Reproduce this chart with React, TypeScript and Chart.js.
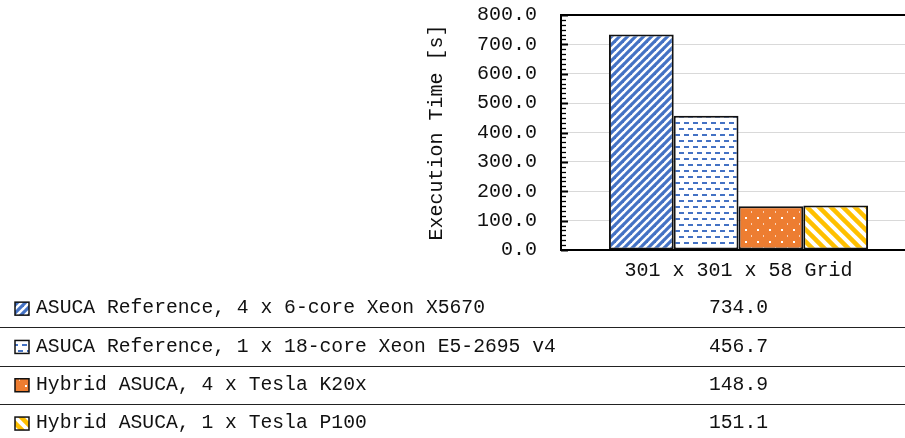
import { useEffect, useRef } from "react";
import { Chart, registerables } from "chart.js";

Chart.register(...registerables);

const categories = ["301 x 301 x 58 Grid"];
const seriesNames = [
  "ASUCA Reference, 4 x 6-core Xeon X5670",
  "ASUCA Reference, 1 x 18-core Xeon E5-2695 v4",
  "Hybrid ASUCA, 4 x Tesla K20x",
  "Hybrid ASUCA, 1 x Tesla P100",
];
const xeonX5670 = [734.0];
const xeonE5 = [456.7];
const teslaK20x = [148.9];
const teslaP100 = [151.1];
const seriesValues = [xeonX5670, xeonE5, teslaK20x, teslaP100];
const yTitle = "Execution Time [s]";
const yMin = 0;
const yMax = 800;
const yStep = 100;
const minorPerMajor = 6;

const FONT = "'Liberation Mono', 'DejaVu Sans Mono', monospace";
const TEXT = "#111";
const BLUE = "#4472C4";
const ORANGE = "#ED7D31";
const GOLD = "#FFC000";

function tile(w: number, h: number, draw: (c: CanvasRenderingContext2D) => void): CanvasPattern {
  const cv = document.createElement("canvas");
  cv.width = w;
  cv.height = h;
  const c = cv.getContext("2d")!;
  draw(c);
  const main = document.createElement("canvas").getContext("2d")!;
  return main.createPattern(cv, "repeat")!;
}

function makePatterns(): CanvasPattern[] {
  const up = tile(8, 8, (c) => {
    const s = 8;
    c.fillStyle = "#fff";
    c.fillRect(0, 0, s, s);
    c.strokeStyle = BLUE;
    c.lineWidth = 3.2;
    for (const k of [0, 1, 2]) {
      c.beginPath();
      c.moveTo(-s, k * s + s);
      c.lineTo(2 * s, k * s - 2 * s);
      c.stroke();
    }
  });
  const dash = tile(9, 12, (c) => {
    c.fillStyle = "#fff";
    c.fillRect(0, 0, 9, 12);
    c.fillStyle = BLUE;
    c.fillRect(0, 2, 5, 2);
    c.fillRect(4, 8, 5, 2);
  });
  const dots = tile(12, 12, (c) => {
    c.fillStyle = ORANGE;
    c.fillRect(0, 0, 12, 12);
    c.fillStyle = "#ffffff";
    c.fillRect(1, 1, 2, 2);
    c.fillStyle = "rgba(255,255,255,0.65)";
    c.fillRect(7, 7, 1, 2);
  });
  const down = tile(12, 12, (c) => {
    const s = 12;
    c.fillStyle = "#fff";
    c.fillRect(0, 0, s, s);
    c.strokeStyle = GOLD;
    c.lineWidth = 4.5;
    for (const k of [-1, 0, 1]) {
      c.beginPath();
      c.moveTo(-s, k * s - s);
      c.lineTo(2 * s, k * s + 2 * s);
      c.stroke();
    }
  });
  return [up, dash, dots, down];
}

const tableTop = 289;
const rowH = 38.3;

export default function App() {
  const ref = useRef<HTMLCanvasElement | null>(null);

  useEffect(() => {
    const canvas = ref.current;
    if (!canvas) return;
    const patterns = makePatterns();

    const minorTicks = {
      id: "minorTicks",
      afterDraw(chart: any) {
        const { ctx } = chart;
        const y = chart.scales.y;
        const left = chart.chartArea.left;
        ctx.save();
        ctx.strokeStyle = "#000";
        const step = yStep / minorPerMajor;
        const n = Math.round((yMax - yMin) / step);
        for (let i = 0; i <= n; i++) {
          const v = yMin + i * step;
          const py = Math.round(y.getPixelForValue(v)) + 0.5;
          const major = i % minorPerMajor === 0;
          ctx.lineWidth = major ? 2 : 1.3;
          ctx.beginPath();
          ctx.moveTo(left, py);
          ctx.lineTo(left + (major ? 7 : 5), py);
          ctx.stroke();
        }
        ctx.restore();
      },
    };

    const dataTable = {
      id: "dataTable",
      afterDraw(chart: any) {
        const { ctx } = chart;
        const cx = chart.scales.x.getPixelForValue(0);
        ctx.save();
        ctx.font = `19.7px ${FONT}`;
        ctx.fillStyle = TEXT;
        ctx.textBaseline = "middle";
        seriesNames.forEach((name, i) => {
          const yc = tableTop + rowH * (i + 0.5);
          ctx.fillStyle = patterns[i];
          ctx.fillRect(15, yc - 6, 14, 13);
          ctx.strokeStyle = "#111";
          ctx.lineWidth = 1.5;
          ctx.strokeRect(15, yc - 6, 14, 13);
          ctx.fillStyle = TEXT;
          ctx.textAlign = "left";
          ctx.fillText(name, 36, yc);
          ctx.textAlign = "center";
          ctx.fillText(seriesValues[i][0].toFixed(1), cx, yc);
          if (i < seriesNames.length - 1) {
            const ly = Math.round(tableTop + rowH * (i + 1)) + 0.5;
            ctx.strokeStyle = "#222";
            ctx.lineWidth = 1;
            ctx.beginPath();
            ctx.moveTo(0, ly);
            ctx.lineTo(chart.width, ly);
            ctx.stroke();
          }
        });
        ctx.restore();
      },
    };

    const chart = new Chart(canvas, {
      type: "bar",
      data: {
        labels: categories,
        datasets: seriesValues.map((vals, i) => ({
          label: seriesNames[i],
          data: vals,
          backgroundColor: patterns[i] as any,
          borderColor: "#111",
          borderWidth: 2,
          borderSkipped: false as any,
          categoryPercentage: 0.73,
          barPercentage: 1,
        })),
      },
      options: {
        animation: false,
        responsive: false,
        devicePixelRatio: 1,
        layout: { padding: { left: 425, top: 15, right: 0, bottom: 0 } },
        plugins: { legend: { display: false }, tooltip: { enabled: false } },
        scales: {
          x: {
            grid: { display: false },
            border: { display: true, color: "#000", width: 2 },
            ticks: { color: TEXT, font: { family: FONT, size: 20 }, padding: 1 },
            afterFit: (s: any) => {
              s.height = 188;
              s.paddingTop = 0;
              s.paddingBottom = 0;
            },
          },
          y: {
            min: yMin,
            max: yMax,
            ticks: {
              stepSize: yStep,
              autoSkip: false,
              callback: (v: any) => Number(v).toFixed(1),
              color: TEXT,
              font: { family: FONT, size: 20 },
              padding: 24,
            },
            grid: {
              drawTicks: false,
              color: (c: any) => (c.tick && c.tick.value === yMax ? "#000" : "#D9D9D9"),
              lineWidth: (c: any) => (c.tick && c.tick.value === yMax ? 2 : 1),
            },
            border: { display: true, color: "#000", width: 2 },
            title: {
              display: true,
              text: yTitle,
              color: TEXT,
              font: { family: FONT, size: 20 },
              padding: 0,
            },
            afterFit: (s: any) => {
              s.width = 136;
              s.paddingTop = 0;
              s.paddingBottom = 0;
            },
          },
        },
      },
      plugins: [minorTicks, dataTable],
    });
    return () => chart.destroy();
  }, []);

  return (
    <div
      style={{
        position: "fixed",
        left: 0,
        top: 0,
        width: 905,
        height: 438,
        overflow: "hidden",
        background: "#fff",
      }}
    >
      <canvas ref={ref} width={916} height={438} style={{ display: "block" }} />
    </div>
  );
}
